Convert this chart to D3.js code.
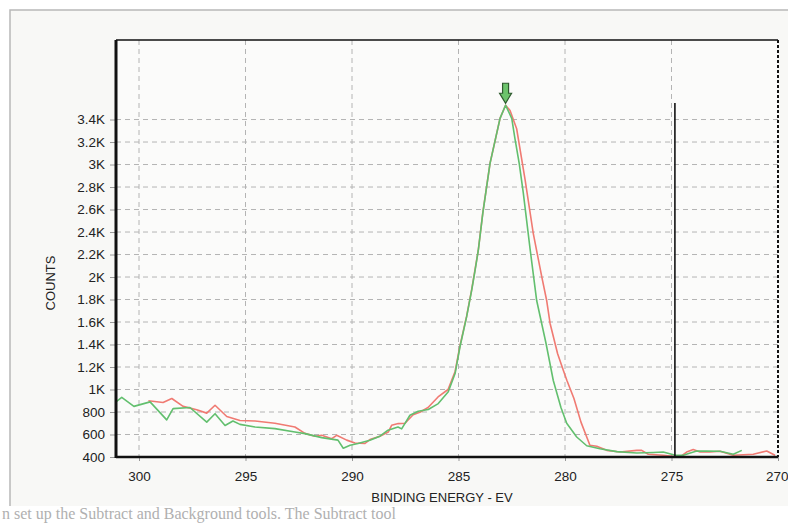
<!DOCTYPE html>
<html>
<head>
<meta charset="utf-8">
<script src="https://cdn.jsdelivr.net/npm/d3@7"></script>
<style>
  html, body { margin: 0; padding: 0; background: #ffffff; }
  svg { display: block; font-family: "Liberation Sans", Arial, sans-serif; }
</style>
</head>
<body>
<svg id="chart" width="788" height="525"></svg>
<script>
// ---- data (binding energy in eV, counts) ----
const xTicks = [300, 295, 290, 285, 280, 275, 270];
const yTicks = [400, 600, 800, 1000, 1200, 1400, 1600, 1800, 2000, 2200, 2400, 2600, 2800, 3000, 3200, 3400];
const yTickLabels = ["400", "600", "800", "1K", "1.2K", "1.4K", "1.6K", "1.8K", "2K", "2.2K", "2.4K", "2.6K", "2.8K", "3K", "3.2K", "3.4K"];

const greenEnergy = [301.08, 300.81, 300.24, 299.48, 298.70, 298.40, 297.61, 296.82, 296.43, 295.96, 295.59, 295.26,
  294.55, 293.62, 292.68, 292.21, 291.42, 290.66, 290.41, 290.09, 289.72, 289.16, 288.69, 288.31, 287.84, 287.67,
  287.28, 286.89, 286.42, 285.95, 285.48, 285.16, 284.93, 284.62, 284.38, 284.23, 284.07, 283.86, 283.52, 283.05,
  282.79, 282.50, 282.35, 282.15, 281.96, 281.64, 281.33, 280.89, 280.55, 280.19, 279.92, 279.45, 278.98, 278.36,
  277.57, 276.63, 275.85, 275.39, 274.82, 274.45, 273.82, 273.35, 272.72, 272.10, 271.70];
const greenCounts = [890, 930, 850, 890, 730, 830, 840, 710, 785, 680, 720, 690,
  667, 652, 622, 608, 572, 550, 478, 505, 520, 549, 585, 638, 667, 650,
  771, 806, 822, 875, 980, 1142, 1380, 1645, 1883, 2050, 2238, 2565, 3010, 3410,
  3527, 3410, 3230, 3010, 2750, 2250, 1791, 1409, 1080, 840, 700, 578, 500, 474,
  448, 436, 440, 444, 415, 415, 453, 452, 451, 424, 459];

const redEnergy = [299.56, 298.87, 298.46, 297.93, 297.29, 296.82, 296.43, 295.88, 295.26,
  294.55, 293.62, 292.68, 292.21, 291.74, 291.42, 290.95, 290.72, 290.25, 289.86, 289.39, 289.16, 288.69, 288.30,
  288.14, 287.83, 287.51, 287.13, 286.79, 286.43, 285.96, 285.49, 285.16, 284.93, 284.62, 284.38, 284.07, 283.86,
  283.52, 283.05, 282.79, 282.58, 282.27, 281.88, 281.49, 281.09, 280.86, 280.70, 280.35, 280.08, 279.91, 279.58,
  279.25, 278.83, 278.51, 278.04, 277.42, 276.63, 276.40, 276.09, 275.39, 274.84, 274.60, 274.29, 273.98, 273.66,
  273.19, 272.72, 272.10, 271.16, 270.53, 270.14];
const redCounts = [900, 885, 920, 850, 820, 790, 860, 760, 725,
  720, 700, 667, 610, 585, 593, 563, 593, 550, 525, 520, 555, 585, 622,
  682, 697, 700, 775, 800, 840, 934, 1000, 1160, 1390, 1650, 1890, 2240, 2570,
  3010, 3410, 3527, 3480, 3318, 2873, 2388, 2001, 1791, 1587, 1320, 1171, 1080, 920,
  710, 504, 495, 459, 444, 459, 459, 424, 415, 405, 400, 444, 466, 444,
  444, 451, 415, 424, 453, 415];

const markerEnergy = 274.84;   // vertical cursor line
const peakEnergy = 282.79;     // arrow marker position
const peakCount = 3527;

const backgroundText = "n set up the Subtract and Background tools. The Subtract tool";

// ---- layout ----
const svg = d3.select("#chart");
const W = 788, H = 525;
const plot = { left: 116, top: 40, right: 778, bottom: 457 };

const x = d3.scaleLinear().domain([301.08, 270]).range([plot.left, plot.right]);
const y = d3.scaleLinear().domain([400, 4107]).range([plot.bottom, plot.top]);

// page / panel
svg.append("rect").attr("x", 0).attr("y", 0).attr("width", W).attr("height", H).attr("fill", "#ffffff");
svg.append("rect").attr("x", 10).attr("y", 10).attr("width", 790).attr("height", 496)
  .attr("fill", "#f8f8f6");
svg.append("path").attr("d", "M10,506 L10,10 L788,10")
  .attr("fill", "none").attr("stroke", "#b8b8b8").attr("stroke-width", 1.5);
svg.append("rect").attr("x", plot.left).attr("y", plot.top)
  .attr("width", plot.right - plot.left).attr("height", plot.bottom - plot.top)
  .attr("fill", "#fbfbfa");

// faint bleed-through text below the panel
svg.append("text").attr("x", 2).attr("y", 519).attr("font-size", 16)
  .attr("font-family", "'Liberation Serif', 'Times New Roman', serif")
  .attr("fill", "#b0b0b0").text(backgroundText);

// grid
const grid = svg.append("g");
grid.selectAll("line.h").data(yTicks).enter().append("line")
  .attr("x1", plot.left).attr("x2", plot.right)
  .attr("y1", d => y(d)).attr("y2", d => y(d))
  .attr("stroke", "#b4b4b4").attr("stroke-width", 1).attr("stroke-dasharray", "5,4");
grid.selectAll("line.v").data(xTicks.filter(d => d > 270)).enter().append("line")
  .attr("x1", d => x(d)).attr("x2", d => x(d))
  .attr("y1", plot.top).attr("y2", plot.bottom)
  .attr("stroke", "#b4b4b4").attr("stroke-width", 1).attr("stroke-dasharray", "5,4");

// axes
const yAxis = d3.axisLeft(y).tickValues(yTicks).tickFormat((d, i) => yTickLabels[i]).tickSize(6).tickPadding(5);
const gy = svg.append("g").attr("transform", `translate(${plot.left},0)`).call(yAxis);
gy.select(".domain").remove();
gy.selectAll(".tick line").attr("stroke", "#999");
gy.selectAll("text").attr("font-size", 13.5).attr("fill", "#222");

const xAxis = d3.axisBottom(x).tickValues(xTicks).tickFormat(d3.format("d")).tickSize(4).tickPadding(10);
const gx = svg.append("g").attr("transform", `translate(0,${plot.bottom})`).call(xAxis);
gx.select(".domain").remove();
gx.selectAll(".tick line").attr("stroke", "#999");
gx.selectAll("text").attr("font-size", 13.5).attr("fill", "#222");
// last label sits against the right edge of the window
gx.selectAll(".tick").filter(d => d === 270).select("text").attr("text-anchor", "end").attr("x", 10);

// frame lines
svg.append("line").attr("x1", plot.left).attr("x2", plot.right).attr("y1", plot.top).attr("y2", plot.top)
  .attr("stroke", "#111").attr("stroke-width", 1.5);
svg.append("line").attr("x1", plot.right).attr("x2", plot.right).attr("y1", plot.top).attr("y2", plot.bottom)
  .attr("stroke", "#111").attr("stroke-width", 2).attr("stroke-dasharray", "3,2");

// series
const lineGen = d3.line().x(d => x(d[0])).y(d => y(d[1]));
const greenData = d3.zip(greenEnergy, greenCounts);
const redData = d3.zip(redEnergy, redCounts);

svg.append("path").datum(redData).attr("d", lineGen)
  .attr("fill", "none").attr("stroke", "#f07a72").attr("stroke-width", 1.6).attr("stroke-linejoin", "round");
svg.append("path").datum(greenData).attr("d", lineGen)
  .attr("fill", "none").attr("stroke", "#62bf6e").attr("stroke-width", 1.6).attr("stroke-linejoin", "round");

// axis lines on top
svg.append("line").attr("x1", plot.left).attr("x2", plot.left).attr("y1", plot.top).attr("y2", plot.bottom + 1)
  .attr("stroke", "#111").attr("stroke-width", 3);
svg.append("line").attr("x1", plot.left).attr("x2", plot.right).attr("y1", plot.bottom).attr("y2", plot.bottom)
  .attr("stroke", "#111").attr("stroke-width", 2.5);

// vertical cursor line
svg.append("line").attr("x1", x(markerEnergy)).attr("x2", x(markerEnergy))
  .attr("y1", 103).attr("y2", plot.bottom)
  .attr("stroke", "#111").attr("stroke-width", 1.6);

// peak arrow marker
const px = x(peakEnergy), py = y(peakCount) - 2;
svg.append("path")
  .attr("d", `M${px - 3},${py - 20} L${px + 3},${py - 20} L${px + 3},${py - 10} L${px + 6},${py - 10} L${px},${py} L${px - 6},${py - 10} L${px - 3},${py - 10} Z`)
  .attr("fill", "#6cc46c").attr("stroke", "#2e5a2e").attr("stroke-width", 1.2);

// axis titles
svg.append("text").attr("transform", "translate(55,283) rotate(-90)")
  .attr("text-anchor", "middle").attr("font-size", 13).attr("fill", "#222").text("COUNTS");
svg.append("text").attr("x", 442).attr("y", 502)
  .attr("text-anchor", "middle").attr("font-size", 13).attr("fill", "#222").text("BINDING ENERGY - EV");
</script>
</body>
</html>
